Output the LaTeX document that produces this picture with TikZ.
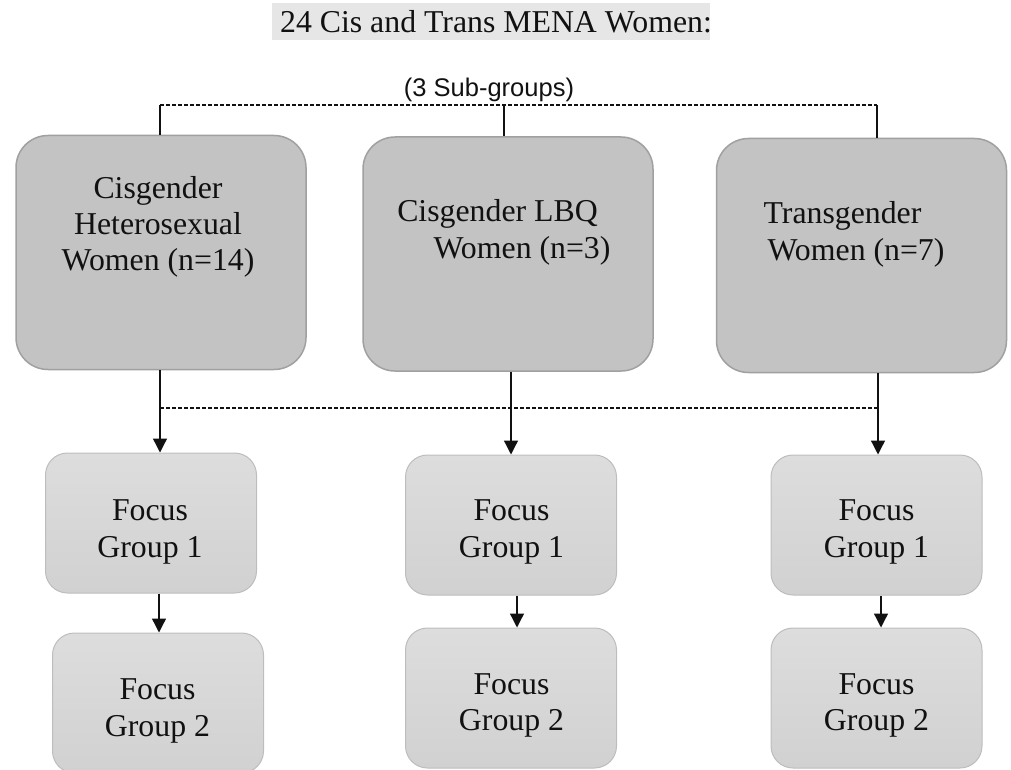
\documentclass[tikz,border=0pt]{standalone}
\usepackage{fontspec}
\setmainfont{Liberation Serif}
\newfontfamily\labelsans{Liberation Sans}
\usetikzlibrary{arrows.meta}
\definecolor{bigfill}{HTML}{C3C3C3}
\definecolor{bigedge}{HTML}{A0A0A0}
\definecolor{fgtop}{HTML}{DDDDDD}
\definecolor{fgbot}{HTML}{D1D1D1}
\definecolor{fgedge}{HTML}{BDBDBD}
\definecolor{titlebg}{HTML}{E6E6E6}
\definecolor{ink}{HTML}{111111}
\begin{document}
\begin{tikzpicture}[x=1pt,y=-1pt,
  big/.style={draw=bigedge, line width=1.5pt, fill=bigfill, rounded corners=32pt,
              minimum width=290pt, minimum height=234pt, inner sep=0pt},
  fg/.style={draw=fgedge, line width=1pt, top color=fgtop, bottom color=fgbot,
             rounded corners=22pt, minimum width=211pt, minimum height=140pt, inner sep=0pt},
  txt/.style={anchor=base, inner sep=0pt, text=ink, font=\fontsize{31.8}{36}\selectfont},
  conn/.style={line width=1.3pt, draw=ink},
  dsh/.style={line width=1.8pt, draw=ink, dash pattern=on 4pt off 2pt},
  arr/.style={conn, -{Triangle[width=14pt,length=14pt]}}]
\useasboundingbox (0,0) rectangle (1011,770);
\clip (0,0) rectangle (1011,770);

% title
\node[fill=titlebg, minimum width=438pt, minimum height=37pt, inner sep=0pt] (title) at (491,21.5) {};
\node[txt] (titletext) at (496,33) {24 Cis and Trans MENA Women:};

% top connectors
\coordinate (tl) at (160,105);
\coordinate (tm) at (504,105);
\coordinate (tr) at (877,105);

% main boxes
\node[big] (b1) at (161,252.5) {};
\node[big] (b2) at (508,254) {};
\node[big] (b3) at (861.5,255.5) {};

\draw[dsh] (tl) -- (tr);
\node[anchor=base, inner sep=0pt, text=ink, font=\labelsans\fontsize{25.5}{29}\selectfont] (sub) at (489,97) {(3 Sub-groups)};
\draw[conn] (tl) -- (tl |- b1.north);
\draw[conn] (tm) -- (tm |- b2.north);
\draw[conn] (tr) -- (tr |- b3.north);

\node[txt] (b1l1) at (158,198.5) {Cisgender};
\node[txt] (b1l2) at (158,234.5) {Heterosexual};
\node[txt] (b1l3) at (158,270.5) {Women (n=14)};
\node[txt] (b2l1) at (497.5,221.5) {Cisgender LBQ};
\node[txt] (b2l2) at (522,258) {Women (n=3)};
\node[txt] (b3l1) at (842.5,223) {Transgender};
\node[txt] (b3l2) at (856,260) {Women (n=7)};

% focus group boxes
\node[fg] (f1a) at (151,523) {};
\node[fg] (f2a) at (158,703) {};
\node[fg] (f1b) at (511,525) {};
\node[fg] (f2b) at (511,698) {};
\node[fg] (f1c) at (876.5,525) {};
\node[fg] (f2c) at (876.5,698) {};

\node[txt] (f1at1) at (150,520.5) {Focus};
\node[txt] (f1at2) at (150,557.5) {Group 1};
\node[txt] (f2at1) at (157.5,699) {Focus};
\node[txt] (f2at2) at (157.5,736) {Group 2};
\node[txt] (f1bt1) at (511.5,520.5) {Focus};
\node[txt] (f1bt2) at (511.5,557.5) {Group 1};
\node[txt] (f2bt1) at (511.5,694) {Focus};
\node[txt] (f2bt2) at (511.5,730.5) {Group 2};
\node[txt] (f1ct1) at (876.5,520.5) {Focus};
\node[txt] (f1ct2) at (876.5,557.5) {Group 1};
\node[txt] (f2ct1) at (876.5,694) {Focus};
\node[txt] (f2ct2) at (876.5,730.5) {Group 2};

% lower connectors
\coordinate (ja) at (160,408);
\coordinate (jb) at (511,408);
\coordinate (jc) at (878,408);
\draw[dsh] (ja) -- (jc);
\draw[arr] (ja |- b1.south) -- (ja |- f1a.north);
\draw[arr] (jb |- b2.south) -- (jb |- f1b.north);
\draw[arr] (jc |- b3.south) -- (jc |- f1c.north);

\coordinate (ka) at (159,613);
\coordinate (kb) at (517,611);
\coordinate (kc) at (881,611);
\draw[arr] (ka |- f1a.south) -- (ka |- f2a.north);
\draw[arr] (kb |- f1b.south) -- (kb |- f2b.north);
\draw[arr] (kc |- f1c.south) -- (kc |- f2c.north);
\end{tikzpicture}
\end{document}
